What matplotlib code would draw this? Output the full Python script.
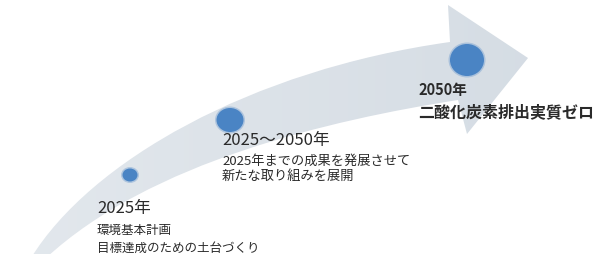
import numpy as np
import matplotlib.pyplot as plt
from matplotlib.path import Path
from matplotlib.patches import PathPatch, Ellipse

plt.rcParams['font.family'] = ['Noto Sans CJK JP', 'DejaVu Sans']

# stage labels and texts
stages = ['2025年', '2025～2050年', '2050年']
details = [
    ['環境基本計画', '目標達成のための土台づくり'],
    ['2025年までの成果を発展させて', '新たな取り組みを展開'],
    ['二酸化炭素排出実質ゼロ'],
]
# marker size per stage (diameter in px)
marker_w = [15, 27, 34]
marker_h = [13, 24, 32]

# layout (pixel coordinates, y downwards)
marker_xy = [(130, 175), (230, 120), (467, 60)]
title_xy = [(97, 209), (222, 140), (418, 90)]
detail_y = [[230, 248], [161, 176], [112]]

fig = plt.figure(figsize=(5.95, 2.54), dpi=100)
ax = fig.add_axes([0, 0, 1, 1])
ax.set_xlim(0, 595)
ax.set_ylim(254, 0)
ax.axis('off')

# curved arrow outline
verts = [
    (31, 258),
    (90, 162), (250, 70), (450, 42),     # upper edge
    (448, 5), (528, 58), (467, 134),     # head
    (458, 100),
    (330, 120), (150, 162), (46, 258),   # lower edge
    (31, 258),
]
codes = [Path.MOVETO,
         Path.CURVE4, Path.CURVE4, Path.CURVE4,
         Path.LINETO, Path.LINETO, Path.LINETO,
         Path.LINETO,
         Path.CURVE4, Path.CURVE4, Path.CURVE4,
         Path.CLOSEPOLY]
arrow = PathPatch(Path(verts, codes), facecolor='none', edgecolor='none')
ax.add_patch(arrow)

# light-to-darker gradient along the arrow
grad = np.linspace(0, 1, 256).reshape(1, -1)
c0 = np.array([0.89, 0.91, 0.93])
c1 = np.array([0.83, 0.86, 0.89])
img = c0 + (c1 - c0) * grad[..., None]
im = ax.imshow(img, extent=[0, 595, 254, 0], aspect='auto', zorder=1)
im.set_clip_path(arrow)

# blue dots with soft edge
for (x, y), w, h in zip(marker_xy, marker_w, marker_h):
    ax.add_patch(Ellipse((x, y), w + 3, h + 3, facecolor='#7fa6d3', edgecolor='none',
                         alpha=0.5, zorder=2))
    ax.add_patch(Ellipse((x, y), w, h, facecolor='#4a84c4', edgecolor='none', zorder=3))

txt = '#2a2a2a'
# stage 1
ax.text(*title_xy[0], stages[0], fontsize=12, color=txt, va='center', ha='left', zorder=4)
for line, y in zip(details[0], detail_y[0]):
    ax.text(title_xy[0][0], y, line, fontsize=9, color=txt, va='center', ha='left', zorder=4)
# stage 2
ax.text(*title_xy[1], stages[1], fontsize=12, color=txt, va='center', ha='left', zorder=4)
for line, y in zip(details[1], detail_y[1]):
    ax.text(title_xy[1][0], y, line, fontsize=9.5, color=txt, va='center', ha='left', zorder=4)
# stage 3
ax.text(*title_xy[2], stages[2], fontsize=10.5, fontweight='bold', color=txt,
        va='center', ha='left', zorder=4)
for line, y in zip(details[2], detail_y[2]):
    ax.text(title_xy[2][0], y, line, fontsize=11.5, fontweight='bold', color=txt,
            va='center', ha='left', zorder=4)

fig.savefig('out.png', dpi=100)
